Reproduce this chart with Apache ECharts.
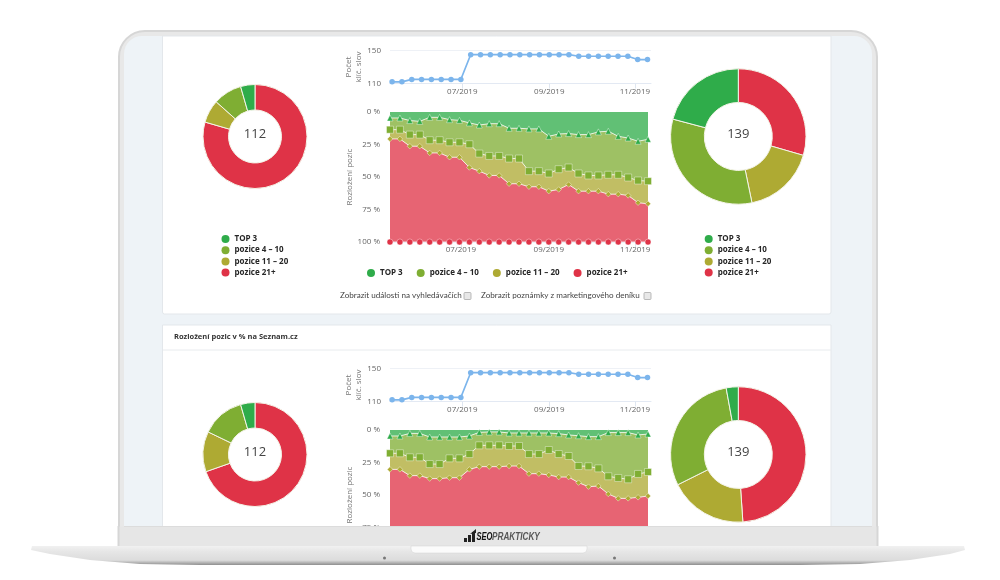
<!DOCTYPE html>
<html>
<head>
<meta charset="utf-8">
<title>Rozložení pozic</title>
<script src="https://cdn.jsdelivr.net/npm/echarts@6/dist/echarts.min.js"></script>
<style>
	html, body { margin: 0; padding: 0; background: #fff; }
	#chart { width: 1000px; height: 580px; }
</style>
</head>
<body>
<div id="chart"></div>
<script>
/*******************************/
/*data*/
/*******************************/
var weeks = [
	'2019-05-12', '2019-05-19', '2019-05-26', '2019-06-02', '2019-06-09', '2019-06-16', '2019-06-23',
	'2019-06-30', '2019-07-07', '2019-07-14', '2019-07-21', '2019-07-28', '2019-08-04', '2019-08-11',
	'2019-08-18', '2019-08-25', '2019-09-01', '2019-09-08', '2019-09-15', '2019-09-22', '2019-09-29',
	'2019-10-06', '2019-10-13', '2019-10-20', '2019-10-27', '2019-11-03', '2019-11-10'
];
var monthTicks = ['2019-07-01', '2019-09-01', '2019-11-01'];
var keywordTicks = [110, 150];
var percentTicks = [0, 25, 50, 75, 100];
var positionNames = ['TOP 3', 'pozice 4 – 10', 'pozice 11 – 20', 'pozice 21+'];

var keywordCounts = [112, 112, 115, 115, 115, 115, 115, 115, 145, 145, 145, 145, 145, 145, 145, 145, 145, 145, 145, 143, 143, 143, 143, 143, 143, 139, 139];

// first block
var top3Share = [4.6, 4.6, 6.6, 7.2, 4.1, 4.1, 5.9, 6.4, 8.4, 10, 9, 9, 12.5, 12.5, 13, 13, 18.7, 16.9, 16.6, 17.4, 17.4, 15.3, 14.8, 18.7, 20, 22.5, 21];
var pos4Share = [9, 9, 10.8, 10.2, 17.6, 17.6, 17.4, 16.9, 16.4, 22, 24.8, 24.8, 23.3, 23.3, 32.5, 32.5, 28.6, 27.1, 26.1, 29.9, 31.4, 33.5, 33.5, 29.6, 30.4, 30.2, 32.2];
var pos11Share = [7.1, 7.1, 8.9, 8.9, 9.8, 9.8, 11.5, 11.5, 17.9, 13.5, 15, 15, 19.4, 19.4, 12, 12, 13.6, 15.6, 13.1, 13.6, 12.1, 12.1, 14.9, 14.9, 13.8, 17.1, 17.4];
var pos21Share = [79.3, 79.3, 73.7, 73.7, 68.5, 68.5, 65.2, 65.2, 57.3, 54.5, 51.2, 51.2, 44.8, 44.8, 42.5, 42.5, 39.1, 40.4, 44.2, 39.1, 39.1, 39.1, 36.8, 36.8, 35.8, 30.2, 29.4];
var startPie = [5, 10, 8, 89];
var endPie = [29, 45, 24, 41];

// Seznam.cz block
var seznamTop3Share = [4.6, 4.6, 2.6, 2.6, 5.4, 5.4, 5.4, 5.4, 4.6, 1.8, 1.5, 1.5, 2.3, 2.3, 2.3, 2.3, 2.3, 2.8, 3.8, 4.4, 5.1, 5.1, 2, 2, 2, 3.8, 3.1];
var seznamPos4Share = [13.3, 13.3, 18.4, 18.4, 20.8, 20.8, 16.4, 16.4, 13.9, 10, 10.3, 10.3, 10, 10, 16.2, 16.2, 13.1, 15.7, 16.2, 23.3, 22.8, 24.4, 33.6, 34.9, 35.9, 30, 29.2];
var seznamPos11Share = [12.4, 12.4, 14.1, 14.1, 11.2, 11.2, 14.9, 14.9, 11.8, 16.4, 16.4, 16.4, 15.4, 15.4, 15.1, 15.1, 19.2, 17.7, 16.2, 12.8, 15.7, 13.6, 13.6, 15.7, 14.7, 18, 18.5];
var seznamPos21Share = [69.7, 69.7, 64.9, 64.9, 62.6, 62.6, 63.3, 63.3, 69.7, 71.8, 71.8, 71.8, 72.3, 72.3, 66.4, 66.4, 65.4, 63.8, 63.8, 59.5, 56.4, 56.9, 50.8, 47.4, 47.4, 48.2, 49.2];
var seznamStartPie = [5, 15, 14, 78];
var seznamEndPie = [4, 41, 26, 68];

/*******************************/
/*styles*/
/*******************************/
var FONT = '"Open Sans", sans-serif';
var PAGE_FONT = 'Lato, sans-serif';
var LOGO_FONT = '"Liberation Sans", sans-serif';
var positionColors = ['#2fac4a', '#7fae33', '#aeaa33', '#df3347'];
var positionSymbols = ['triangle', 'rect', 'diamond', 'circle'];
var symbolSizes = [6, 7, 5.5, 6];

/*******************************/
/*page load*/
/*******************************/
window.onload = function () {
	drawChart();
};

/*
** date string to a timestamp
*/
function toTime(date) {
	return +echarts.time.parse(date);
}

/*
** pair the week dates with a list of values
*/
function byWeek(values) {
	return values.map(function (value, i) {
		return [toTime(weeks[i]), value];
	});
}

/*
** date axis with the month ticks only
*/
function monthAxis(gridIndex, min, max) {
	var ticks = monthTicks.map(toTime);
	return {
		type: 'value',
		gridIndex: gridIndex,
		min: toTime(min),
		max: toTime(max),
		axisLine: { show: true, onZero: false, lineStyle: { color: '#e3e9f3', width: 1 } },
		axisTick: { show: true, length: 5, customValues: ticks, lineStyle: { color: '#dfe6f0' } },
		splitLine: { show: false },
		axisLabel: {
			customValues: ticks,
			hideOverlap: false,
			margin: 4,
			fontFamily: FONT,
			fontSize: 8,
			color: '#666',
			formatter: function (value) {
				return echarts.time.format(value, '{MM}/{yyyy}', false);
			}
		}
	};
}

/*
** one row: keyword line above the stacked percent areas
*/
function addRow(option, top, shares, startCounts, endCounts) {
	var lineGrid = option.grid.length;
	var areaGrid = lineGrid + 1;
	var first = weeks[0];
	var last = weeks[weeks.length - 1];
	var stackAxis = option.xAxis.length + 2;
	option.grid.push(
		{ left: 390, width: 261, top: top + 14.5, height: 33 },
		{ left: 390, width: 258, top: top + 76, height: 130 }
	);
	option.xAxis.push(
		monthAxis(lineGrid, '2019-05-10 12:00', '2019-11-12 12:00'),
		monthAxis(areaGrid, first, last),
		// the stack only works over a time axis, the visible one above carries the month ticks
		{ type: 'time', show: false, gridIndex: areaGrid, min: toTime(first), max: toTime(last) }
	);
	option.yAxis.push(
		{
			type: 'value',
			gridIndex: lineGrid,
			min: keywordTicks[0],
			max: keywordTicks[1],
			interval: keywordTicks[1] - keywordTicks[0],
			name: 'Počet\nklíč. slov',
			nameLocation: 'middle',
			nameRotate: 90,
			nameGap: 19,
			nameTextStyle: { fontFamily: FONT, fontSize: 8, color: '#777', lineHeight: 10 },
			axisLine: { show: false },
			axisTick: { show: false },
			axisLabel: { margin: 9, fontFamily: FONT, fontSize: 8, color: '#666' },
			splitLine: { lineStyle: { color: '#eef1f6' } }
		},
		{
			type: 'value',
			gridIndex: areaGrid,
			inverse: true,
			min: percentTicks[0],
			max: percentTicks[percentTicks.length - 1],
			interval: percentTicks[1],
			name: 'Rozložení pozic',
			nameLocation: 'middle',
			nameRotate: 90,
			nameGap: 36,
			nameTextStyle: { fontFamily: FONT, fontSize: 8, color: '#777' },
			axisLine: { show: false },
			axisTick: { show: false },
			axisLabel: { margin: 10, fontFamily: FONT, fontSize: 8, color: '#666', formatter: '{value} %' },
			splitLine: { show: false }
		}
	);
	option.series.push({
		type: 'line',
		name: 'Počet klíč. slov',
		xAxisIndex: stackAxis - 2,
		yAxisIndex: lineGrid,
		data: byWeek(keywordCounts),
		symbol: 'circle',
		symbolSize: 5.5,
		clip: false,
		silent: true,
		lineStyle: { color: '#7cb5ec', width: 1.6 },
		itemStyle: { color: '#7cb5ec' }
	});
	shares.forEach(function (share, i) {
		option.series.push({
			type: 'line',
			name: positionNames[i],
			stack: 'row' + top,
			xAxisIndex: stackAxis,
			yAxisIndex: areaGrid,
			data: byWeek(share),
			symbol: positionSymbols[i],
			symbolSize: symbolSizes[i],
			showAllSymbol: true,
			clip: false,
			silent: true,
			lineStyle: { color: '#fff', width: 1, opacity: 0.75 },
			itemStyle: { color: positionColors[i], borderColor: '#fff', borderWidth: 0.4, opacity: 1 },
			areaStyle: { color: positionColors[i], opacity: 0.76 }
		});
	});
	addPie(option, 255, top + 100.5, 52, 26.5, startCounts);
	addPie(option, 738.3, top + 100.5, 67.7, 34, endCounts);
}

/*
** donut, red slice first, with the total in the hole
*/
function addPie(option, cx, cy, outer, inner, counts) {
	var order = [3, 2, 1, 0];
	option.series.push({
		type: 'pie',
		center: [cx, cy],
		radius: [inner, outer],
		startAngle: 90,
		silent: true,
		label: { show: false },
		itemStyle: { borderColor: '#f4f4e8', borderWidth: 1 },
		data: order.map(function (i) {
			return { name: positionNames[i], value: counts[i], itemStyle: { color: positionColors[i] } };
		})
	});
	var total = counts.reduce(function (sum, n) { return sum + n; }, 0);
	option.graphic.elements.push({
		type: 'text',
		z: 50,
		x: cx,
		y: cy - 2,
		style: { text: String(total), align: 'center', verticalAlign: 'middle', fontFamily: FONT, fontSize: 13, fill: '#444' }
	});
}

/*
** legends use the same position names everywhere
*/
function legend(left, top, orient, gap) {
	return {
		left: left,
		top: top,
		orient: orient,
		padding: 0,
		icon: 'circle',
		itemWidth: 8,
		itemHeight: 8,
		itemGap: gap,
		selectedMode: false,
		data: positionNames.map(function (name, i) {
			return { name: name, itemStyle: { color: positionColors[i], borderWidth: 0 } };
		}),
		textStyle: { fontFamily: FONT, fontSize: 8, fontWeight: 'bold', color: '#262626' }
	};
}

/*
** laptop frame and the page cards behind and in front of the charts
*/
function frameGraphics() {
	var back = -5, front = 100;
	var logoBars = [[464, 538, 3, 4], [468, 535, 3, 7], [472, 532, 3, 10]];
	var basePoints = [[32, 546], [964, 546], [965, 550], [950, 554], [910, 560], [860, 564], [800, 565], [200, 565], [140, 564], [90, 560], [50, 554], [31, 550]];
	var items = [
		{ type: 'rect', z: back, shape: { x: 119, y: 31, width: 758, height: 520, r: [26, 26, 0, 0] }, style: { fill: '#e8e8e8', stroke: '#d6d6d6', lineWidth: 2 } },
		{ type: 'rect', z: back, shape: { x: 124, y: 36, width: 748, height: 500, r: [18, 18, 0, 0] }, style: { fill: '#eef3f7' } },
		{ type: 'rect', z: back, shape: { x: 162.5, y: 36, width: 668.5, height: 278, r: [0, 0, 2, 2] }, style: { fill: '#fff', stroke: '#e3e7eb', lineWidth: 1 } },
		{ type: 'rect', z: back, shape: { x: 162.5, y: 325, width: 668.5, height: 210 }, style: { fill: '#fff', stroke: '#e3e7eb', lineWidth: 1 } },
		{ type: 'line', z: back, shape: { x1: 163, y1: 350, x2: 831, y2: 350 }, style: { stroke: '#e8ebee', lineWidth: 1 } },
		{ type: 'text', z: back, x: 174, y: 333, style: { text: 'Rozložení pozic v % na Seznam.cz', fontFamily: FONT, fontSize: 7.5, fontWeight: 'bold', fill: '#333' } },
		{ type: 'text', z: back, x: 340, y: 291.5, style: { text: 'Zobrazit události na vyhledávačích', fontFamily: PAGE_FONT, fontSize: 8.1, fill: '#444' } },
		{ type: 'rect', z: back, shape: { x: 464, y: 292.5, width: 7, height: 7, r: 1 }, style: { fill: '#e8e8e8', stroke: '#aaa', lineWidth: 0.8 } },
		{ type: 'text', z: back, x: 481, y: 291.5, style: { text: 'Zobrazit poznámky z marketingového deníku', fontFamily: PAGE_FONT, fontSize: 8.1, fill: '#444' } },
		{ type: 'rect', z: back, shape: { x: 644, y: 292.5, width: 7, height: 7, r: 1 }, style: { fill: '#e8e8e8', stroke: '#aaa', lineWidth: 0.8 } },
		// white strip hides what runs past the screen
		{ type: 'rect', z: front - 1, shape: { x: 0, y: 547, width: 1000, height: 33 }, style: { fill: '#fff' } },
		// bezel covers the bottom of the second block
		{ type: 'rect', z: front, shape: { x: 119, y: 526.5, width: 758, height: 21 }, style: { fill: '#e6e6e6' } },
		{ type: 'rect', z: front, shape: { x: 124, y: 526, width: 748, height: 1 }, style: { fill: '#dcdcdc' } },
		{ type: 'line', z: front, shape: { x1: 118.5, y1: 526, x2: 118.5, y2: 547 }, style: { stroke: '#d6d6d6', lineWidth: 2 } },
		{ type: 'line', z: front, shape: { x1: 877.5, y1: 526, x2: 877.5, y2: 547 }, style: { stroke: '#d6d6d6', lineWidth: 2 } },
		{ type: 'polygon', z: front, shape: { points: basePoints }, style: {
			fill: new echarts.graphic.LinearGradient(0, 0, 0, 1, [
				{ offset: 0, color: '#f1f1f1' },
				{ offset: 0.3, color: '#e6e6e6' },
				{ offset: 0.75, color: '#dcdcdc' },
				{ offset: 1, color: '#8e8e8e' }
			])
		} },
		{ type: 'rect', z: front + 1, shape: { x: 411, y: 546, width: 176, height: 7, r: [0, 0, 4, 4] }, style: { fill: '#fbfbfb', stroke: '#d0d0d0', lineWidth: 0.5 } },
		{ type: 'circle', z: front + 1, shape: { cx: 384.5, cy: 558, r: 1.5 }, style: { fill: '#777' } },
		{ type: 'circle', z: front + 1, shape: { cx: 614.5, cy: 558, r: 1.5 }, style: { fill: '#777' } },
		{ type: 'polygon', z: front + 1, shape: { points: [[470, 534], [476, 529], [476, 533]] }, style: { fill: '#222' } },
		{ type: 'text', z: front + 1, x: 476.5, y: 532, scaleX: 0.72, style: { text: 'SEO', fontFamily: LOGO_FONT, fontSize: 10.5, fontWeight: 'bold', fontStyle: 'italic', fill: '#111' } },
		{ type: 'text', z: front + 1, x: 492, y: 532, scaleX: 0.78, style: { text: 'PRAKTICKY', fontFamily: LOGO_FONT, fontSize: 10.5, fontWeight: 'bold', fontStyle: 'italic', fill: '#555' } }
	];
	logoBars.forEach(function (bar) {
		items.push({ type: 'rect', z: front + 1, shape: { x: bar[0], y: bar[1], width: bar[2], height: bar[3] }, style: { fill: '#222' } });
	});
	return items;
}

/*
** build everything and draw it
*/
function drawChart() {
	var option = {
		animation: false,
		backgroundColor: '#fff',
		grid: [],
		xAxis: [],
		yAxis: [],
		series: [],
		legend: [
			legend(221.5, 235, 'vertical', 3.2),
			legend(367, 269, 'horizontal', 14),
			legend(704.7, 235, 'vertical', 3.2)
		],
		graphic: { elements: frameGraphics() }
	};
	addRow(option, 36, [top3Share, pos4Share, pos11Share, pos21Share], startPie, endPie);
	addRow(option, 354, [seznamTop3Share, seznamPos4Share, seznamPos11Share, seznamPos21Share], seznamStartPie, seznamEndPie);
	var myChart = echarts.init(document.getElementById('chart'), null, { renderer: 'canvas' });
	myChart.setOption(option);
}
</script>
</body>
</html>
